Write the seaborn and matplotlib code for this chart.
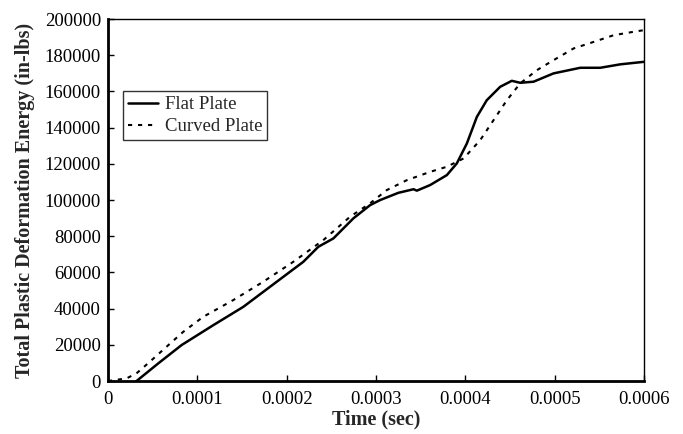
import numpy as np
import pandas as pd
import matplotlib
matplotlib.use("Agg")
import matplotlib.pyplot as plt
import seaborn as sns

# flat plate (solid)
flat_t = [0.000032, 0.0000564, 0.0000825, 0.000118, 0.0001515, 0.000189, 0.0002187,
          0.0002355, 0.0002523, 0.0002747, 0.0002934, 0.0003046, 0.000325, 0.000342,
          0.0003457, 0.0003606, 0.0003793, 0.0003905, 0.0004017, 0.0004129, 0.000424,
          0.000439, 0.000452, 0.0004614, 0.0004763, 0.0004987, 0.0005286, 0.000551,
          0.0005734, 0.0006]
flat_e = [0, 9780, 19900, 30900, 41000, 54900, 65900,
          74200, 78800, 89900, 97200, 100000, 104000, 106000,
          105200, 108300, 113800, 120300, 131300, 146000, 155200,
          162600, 165900, 164800, 165400, 170000, 173100, 173100,
          175000, 176400]

# curved plate (dashed)
curved_t = [0.0, 0.000021, 0.000032, 0.000047, 0.0000657, 0.0000843, 0.0001067,
            0.0001403, 0.0001739, 0.0002075, 0.0002411, 0.000271, 0.0002934, 0.000312,
            0.0003345, 0.0003606, 0.0003793, 0.000398, 0.0004166, 0.0004316, 0.0004465,
            0.0004614, 0.0004801, 0.0004987, 0.0005212, 0.0005436, 0.000566, 0.0005884,
            0.0006]
curved_e = [0, 1500, 4250, 10700, 19000, 27200, 35500,
            44750, 54900, 65900, 77900, 90800, 98200, 105500,
            111000, 115600, 118400, 123000, 133100, 144200, 155200,
            164500, 171800, 177300, 183800, 187400, 191100, 193000,
            193900]

xticks = [0, 0.0001, 0.0002, 0.0003, 0.0004, 0.0005, 0.0006]
xtick_labels = ["0", "0.0001", "0.0002", "0.0003", "0.0004", "0.0005", "0.0006"]
yticks = list(range(0, 200001, 20000))

sns.set_style("ticks")
plt.rcParams['font.family'] = ['Liberation Serif', 'DejaVu Serif']
plt.rcParams['xtick.direction'] = 'in'
plt.rcParams['ytick.direction'] = 'in'

fig = plt.figure(figsize=(6.83, 4.34), dpi=100)
ax = fig.add_subplot(1, 1, 1)
fig.subplots_adjust(left=0.158, right=0.943, top=0.956, bottom=0.122)

flat = pd.DataFrame({'t': flat_t, 'e': flat_e})
curved = pd.DataFrame({'t': curved_t, 'e': curved_e})
sns.lineplot(data=flat, x='t', y='e', ax=ax, color='black', linewidth=1.8, label='Flat Plate')
sns.lineplot(data=curved, x='t', y='e', ax=ax, color='black', linewidth=1.5,
             linestyle=(0, (2, 2.8)), label='Curved Plate')

ax.set_xlim(0, 0.0006)
ax.set_ylim(0, 200000)
ax.set_xticks(xticks)
ax.set_xticklabels(xtick_labels, fontsize=13.5)
ax.set_yticks(yticks)
ax.set_yticklabels([str(v) for v in yticks], fontsize=13.5)
ax.tick_params(length=4, width=1, colors='black')
ax.tick_params(axis='x', pad=7)
ax.tick_params(axis='y', pad=5)
ax.set_xlabel('Time (sec)', fontsize=14.5, fontweight='bold', labelpad=1)
ax.set_ylabel('Total Plastic Deformation Energy (in-lbs)', fontsize=14.5, fontweight='bold', labelpad=7)

for s in ['left', 'bottom']:
    ax.spines[s].set_linewidth(2)
for s in ['top', 'right']:
    ax.spines[s].set_linewidth(1)
    ax.spines[s].set_visible(True)
for s in ax.spines.values():
    s.set_color('black')

leg = ax.legend(loc='upper left', bbox_to_anchor=(0.028, 0.80), fontsize=13.5,
                frameon=True, fancybox=False, borderpad=0.25, labelspacing=0.25,
                handlelength=1.6, handletextpad=0.4, borderaxespad=0)
leg.get_frame().set_edgecolor('black')
leg.get_frame().set_linewidth(1)

plt.savefig("out.png", dpi=100)
